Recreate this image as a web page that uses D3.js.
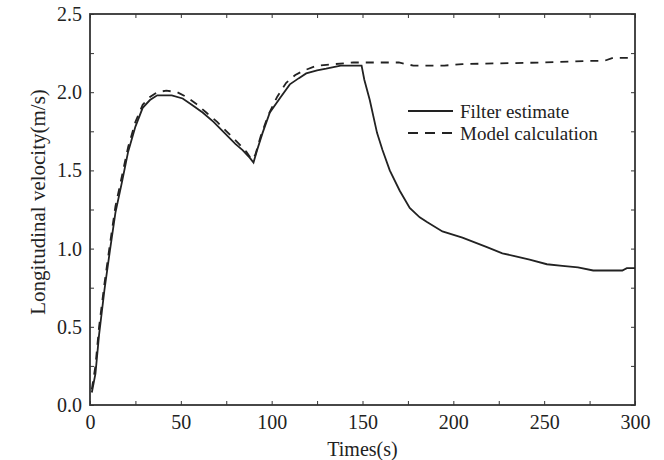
<!DOCTYPE html>
<html>
<head>
<meta charset="utf-8">
<script src="https://cdn.jsdelivr.net/npm/d3@7"></script>
<style>
  body { margin: 0; background: #fff; }
  text { font-family: "Liberation Serif", "Times New Roman", serif; fill: #222; }
</style>
</head>
<body>
<svg id="chart" width="664" height="460"></svg>
<script>
// data
const filterTime = [1, 3, 5, 8, 11, 14, 17.5, 21, 25, 29, 33, 37, 45, 51, 56, 62, 68, 74, 80, 84, 88, 90, 92, 95, 99, 105, 110, 115, 119, 125, 130, 138, 147.5, 149.5, 151, 154, 158, 161, 165, 170.5, 176, 181.5, 185.5, 194, 205, 218.5, 227, 242, 251.5, 260, 268.6, 277, 293, 295.5, 300];
const filterVel = [0.08, 0.2, 0.45, 0.74, 0.99, 1.23, 1.42, 1.62, 1.78, 1.9, 1.95, 1.98, 1.98, 1.96, 1.92, 1.87, 1.81, 1.74, 1.67, 1.63, 1.58, 1.55, 1.63, 1.74, 1.87, 1.97, 2.05, 2.09, 2.12, 2.14, 2.15, 2.17, 2.17, 2.17, 2.08, 1.95, 1.74, 1.63, 1.5, 1.37, 1.26, 1.2, 1.17, 1.11, 1.07, 1.01, 0.97, 0.93, 0.9, 0.89, 0.88, 0.86, 0.86, 0.875, 0.875];

const modelTime = [1, 3, 5, 8, 11, 14, 17.5, 21, 25, 29, 33, 37, 42, 48, 53, 58, 64, 70, 76, 82, 86, 89, 91, 94, 98, 103, 108, 113, 118, 125, 135, 145, 150, 160, 170, 178, 195, 205, 250, 275, 283, 288, 300];
const modelVel = [0.1, 0.25, 0.5, 0.78, 1.03, 1.27, 1.46, 1.65, 1.81, 1.92, 1.97, 2.0, 2.01, 2.0, 1.97, 1.93, 1.87, 1.81, 1.74, 1.67, 1.62, 1.57, 1.6, 1.72, 1.85, 1.97, 2.06, 2.11, 2.14, 2.17, 2.18, 2.19, 2.19, 2.19, 2.19, 2.17, 2.17, 2.18, 2.19, 2.2, 2.2, 2.22, 2.22];

const xTicks = [0, 50, 100, 150, 200, 250, 300];
const yTicks = [0.0, 0.5, 1.0, 1.5, 2.0, 2.5];
const seriesNames = ["Filter estimate", "Model calculation"];

const svg = d3.select("#chart");
const margin = { top: 14, right: 29, bottom: 55, left: 90 };
const width = 664 - margin.left - margin.right;
const height = 460 - margin.top - margin.bottom;

const x = d3.scaleLinear().domain([0, 300]).range([0, width]);
const y = d3.scaleLinear().domain([0, 2.5]).range([height, 0]);

const g = svg.append("g")
  .attr("transform", "translate(" + margin.left + "," + margin.top + ")");

// inward ticks on all four sides
const minorX = d3.range(0, 301, 25);
const minorY = d3.range(0, 2.51, 0.25);
const tickLen = 4;

function styleAxis(sel) {
  sel.select(".domain").remove();
  sel.selectAll("line").attr("stroke", "#333").attr("stroke-width", 1);
}

g.append("g")
  .attr("transform", "translate(0," + height + ")")
  .call(d3.axisBottom(x).tickValues(minorX).tickSize(-tickLen).tickFormat(""))
  .call(styleAxis);
g.append("g")
  .call(d3.axisTop(x).tickValues(minorX).tickSize(-tickLen).tickFormat(""))
  .call(styleAxis);
g.append("g")
  .call(d3.axisLeft(y).tickValues(minorY).tickSize(-tickLen).tickFormat(""))
  .call(styleAxis);
g.append("g")
  .attr("transform", "translate(" + width + ",0)")
  .call(d3.axisRight(y).tickValues(minorY).tickSize(-tickLen).tickFormat(""))
  .call(styleAxis);

// tick labels
g.append("g")
  .attr("transform", "translate(0," + height + ")")
  .call(d3.axisBottom(x).tickValues(xTicks).tickSize(0).tickPadding(10).tickFormat(d3.format("d")))
  .call(sel => sel.select(".domain").remove())
  .selectAll("text")
  .style("font-family", "Liberation Serif, serif")
  .style("font-size", "20px")
  .attr("fill", "#222");

g.append("g")
  .call(d3.axisLeft(y).tickValues(yTicks).tickSize(0).tickPadding(8).tickFormat(d3.format(".1f")))
  .call(sel => sel.select(".domain").remove())
  .selectAll("text")
  .style("font-family", "Liberation Serif, serif")
  .style("font-size", "20px")
  .attr("fill", "#222");

// frame
g.append("rect")
  .attr("width", width)
  .attr("height", height)
  .attr("fill", "none")
  .attr("stroke", "#333")
  .attr("stroke-width", 1.8);

const line = d3.line()
  .x(d => x(d[0]))
  .y(d => y(d[1]));

const filterData = filterTime.map((t, i) => [t, filterVel[i]]);
const modelData = modelTime.map((t, i) => [t, modelVel[i]]);

g.append("path")
  .datum(modelData)
  .attr("fill", "none")
  .attr("stroke", "#222")
  .attr("stroke-width", 1.8)
  .attr("stroke-dasharray", "8,7")
  .attr("d", line);

g.append("path")
  .datum(filterData)
  .attr("fill", "none")
  .attr("stroke", "#222")
  .attr("stroke-width", 1.8)
  .attr("d", line);

// legend
const legend = svg.append("g").attr("transform", "translate(408,111)");
seriesNames.forEach((name, i) => {
  const row = legend.append("g").attr("transform", "translate(0," + i * 22 + ")");
  row.append("line")
    .attr("x1", 0).attr("x2", 45)
    .attr("stroke", "#222")
    .attr("stroke-width", 1.8)
    .attr("stroke-dasharray", i === 1 ? "10,7" : null);
  row.append("text")
    .attr("x", 52)
    .attr("dy", "0.35em")
    .style("font-size", "19px")
    .text(name);
});

// axis titles
svg.append("text")
  .attr("x", margin.left + x(150))
  .attr("y", 456)
  .attr("text-anchor", "middle")
  .style("font-size", "20px")
  .text("Times(s)");

svg.append("text")
  .attr("transform", "translate(45,202) rotate(-90)")
  .attr("text-anchor", "middle")
  .style("font-size", "21px")
  .text("Longitudinal velocity(m/s)");
</script>
</body>
</html>
